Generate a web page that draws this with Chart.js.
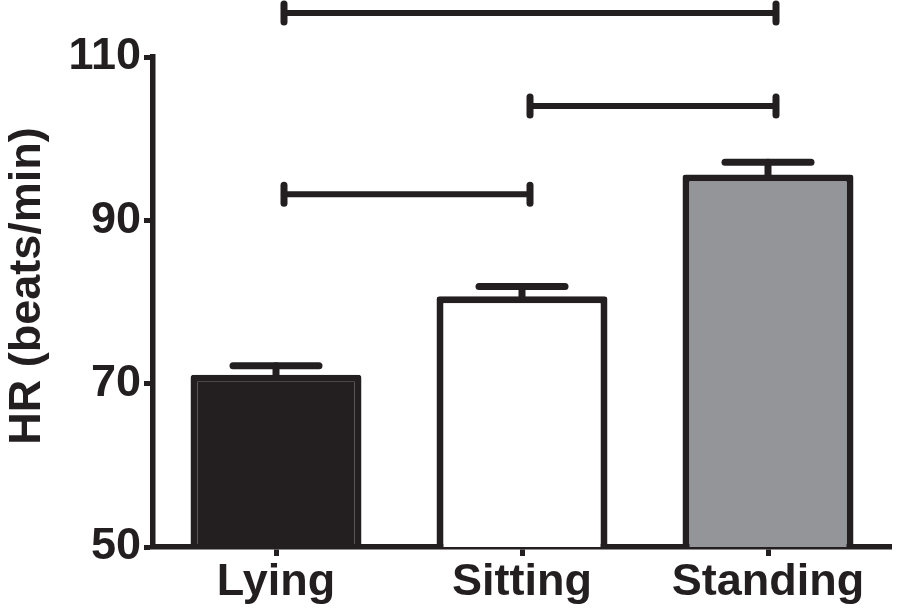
<!DOCTYPE html>
<html><head><meta charset="utf-8">
<script src="https://cdn.jsdelivr.net/npm/chart.js@4/dist/chart.umd.min.js"></script>
<style>html,body{margin:0;padding:0;background:#fff}#wrap{width:898px;height:610px}</style>
</head><body><div id="wrap"><canvas id="c" width="898" height="610"></canvas></div>
<script>
const categories = ['Lying', 'Sitting', 'Standing'];
const hrMean = [71.1, 80.7, 95.6];
const hrSem = [1.1, 1.2, 1.5];
const yTicks = [50, 70, 90, 110];
const bracketFrom = [0, 1, 0];
const bracketTo = [1, 2, 2];
const bracketLevel = [93.2, 104.0, 115.4];
const yTitle = 'HR (beats/min)';

const INK = '#231f20';
const FONT = '"Liberation Sans", Arial, sans-serif';

const extras = {
  id: 'extras',
  afterDraw(chart) {
    const ctx = chart.ctx, x = chart.scales.x, y = chart.scales.y;
    const meta = chart.getDatasetMeta(0);
    ctx.save();
    ctx.strokeStyle = INK;
    ctx.lineCap = 'round';
    // error bars (upper only)
    meta.data.forEach((bar, i) => {
      const cx = bar.x;
      const top = y.getPixelForValue(hrMean[i]);
      const cap = y.getPixelForValue(hrMean[i] + hrSem[i]);
      ctx.lineWidth = 7;
      ctx.beginPath(); ctx.moveTo(cx, top); ctx.lineTo(cx, cap); ctx.stroke();
      ctx.beginPath(); ctx.moveTo(cx - 43, cap); ctx.lineTo(cx + 43, cap); ctx.stroke();
    });
    // significance brackets
    const shift = 8;
    for (let k = 0; k < bracketLevel.length; k++) {
      const x1 = x.getPixelForValue(bracketFrom[k]) + shift;
      const x2 = x.getPixelForValue(bracketTo[k]) + shift;
      const by = y.getPixelForValue(bracketLevel[k]);
      ctx.lineWidth = 6;
      ctx.beginPath(); ctx.moveTo(x1, by); ctx.lineTo(x2, by); ctx.stroke();
      ctx.lineWidth = 7;
      ctx.beginPath(); ctx.moveTo(x1, by - 9); ctx.lineTo(x1, by + 9); ctx.stroke();
      ctx.beginPath(); ctx.moveTo(x2, by - 9); ctx.lineTo(x2, by + 9); ctx.stroke();
    }
    // y axis title
    ctx.fillStyle = INK;
    ctx.font = 'bold 45px ' + FONT;
    ctx.textAlign = 'center';
    ctx.textBaseline = 'middle';
    ctx.translate(28, 286);
    ctx.rotate(-Math.PI / 2);
    ctx.fillText(yTitle, 0, 0);
    ctx.restore();
  }
};

new Chart(document.getElementById('c'), {
  type: 'bar',
  data: {
    labels: categories,
    datasets: [{
      data: hrMean,
      backgroundColor: [INK, '#ffffff', '#939598'],
      borderColor: INK,
      borderWidth: 7,
      borderSkipped: false,
      borderRadius: 3,
      barPercentage: 0.695,
      categoryPercentage: 1
    }]
  },
  options: {
    responsive: false,
    devicePixelRatio: 1,
    animation: false,
    layout: { padding: { top: 57, right: 7, left: 0, bottom: 0 } },
    plugins: { legend: { display: false }, tooltip: { enabled: false } },
    scales: {
      x: {
        offset: true,
        grid: { display: true, drawOnChartArea: false, drawTicks: true, tickLength: 9, tickWidth: 5, tickColor: INK, offset: false },
        border: { display: true, color: INK, width: 5.5 },
        ticks: { color: INK, font: { family: FONT, size: 45, weight: 'bold' }, padding: 0, maxRotation: 0 },
        afterFit(s) { s.height = 63; }
      },
      y: {
        min: 50, max: 110,
        afterBuildTicks(s) { s.ticks = yTicks.map(v => ({ value: v })); },
        grid: { display: true, drawOnChartArea: false, drawTicks: true, tickLength: 9, tickWidth: 5, tickColor: INK },
        border: { display: true, color: INK, width: 5.5 },
        ticks: { color: INK, font: { family: FONT, size: 45, weight: 'bold' }, padding: 3 },
        afterFit(s) { s.width = 153; }
      }
    }
  },
  plugins: [extras]
});
</script>
</body></html>
